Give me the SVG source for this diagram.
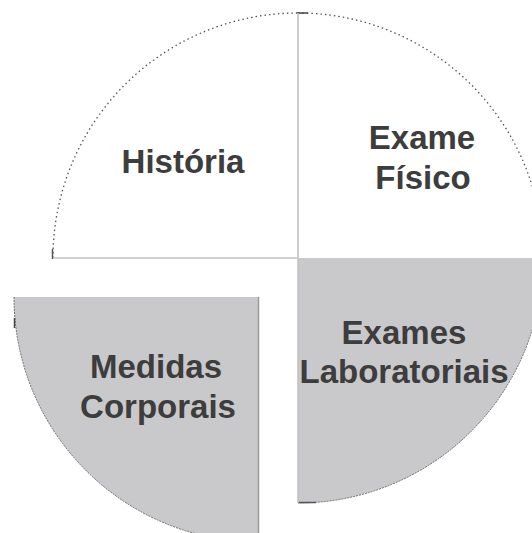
<svg xmlns="http://www.w3.org/2000/svg" width="532" height="533" viewBox="0 0 532 533">
  <style>
    .label { font-family: "Liberation Sans", Arial, sans-serif; font-weight: bold; font-size: 33px; fill: #3d3d3d; text-anchor: middle; }
    .open-arc { fill: none; stroke: #555; stroke-width: 1.3; stroke-dasharray: 1.5 3; }
    .sector { fill: #c9c9cb; }
    .sector-edge { fill: none; stroke: #6a6a6a; stroke-width: 1; stroke-dasharray: 2 1; }
    .divider { stroke: #c2c2c2; stroke-width: 1.6; fill: none; }
  </style>
  <rect width="532" height="533" fill="#ffffff"/>

  <!-- upper left: História -->
  <g id="historia">
    <path class="open-arc" d="M53,258 A245,245 0 0 1 298,13"/>
    <line x1="52.5" y1="249" x2="52.5" y2="259" stroke="#555" stroke-width="1.5"/>
    <text class="label" x="183" y="173">História</text>
  </g>

  <!-- upper right: Exame Físico -->
  <g id="exame-fisico">
    <path class="open-arc" d="M298,13 A245,245 0 0 1 543,258"/>
    <line x1="297" y1="13" x2="308" y2="13" stroke="#444" stroke-width="1.5"/>
    <text class="label" x="422" y="149">Exame</text>
    <text class="label" x="423" y="189">Físico</text>
  </g>

  <!-- lower right: Exames Laboratoriais -->
  <g id="exames-laboratoriais">
    <path class="sector" d="M298,258 L543,258 A245,245 0 0 1 298,503 Z"/>
    <path class="sector-edge" d="M543,258 A245,245 0 0 1 298,503"/>
    <line x1="298" y1="502.5" x2="316" y2="502.5" stroke="#555" stroke-width="1.5"/>
    <text class="label" x="404" y="344">Exames</text>
    <text class="label" x="404" y="383">Laboratoriais</text>
  </g>

  <!-- lower left (offset): Medidas Corporais -->
  <g id="medidas-corporais">
    <path class="sector" d="M259,297 L14,297 A245,245 0 0 0 259,542 Z"/>
    <path class="sector-edge" d="M14,297 A245,245 0 0 0 259,542"/>
    <line x1="258.5" y1="297" x2="258.5" y2="533" stroke="#9a9a9a" stroke-width="1.5"/>
    <line x1="14.5" y1="318" x2="14.5" y2="328" stroke="#444" stroke-width="1.5"/>
    <text class="label" x="156" y="378">Medidas</text>
    <text class="label" x="158" y="418">Corporais</text>
  </g>

  <!-- axis lines between the quadrants -->
  <g id="dividers">
    <line class="divider" x1="53" y1="258" x2="298" y2="258"/>
    <line class="divider" x1="298" y1="13" x2="298" y2="503" stroke="#b5b5b5"/>
  </g>
</svg>
